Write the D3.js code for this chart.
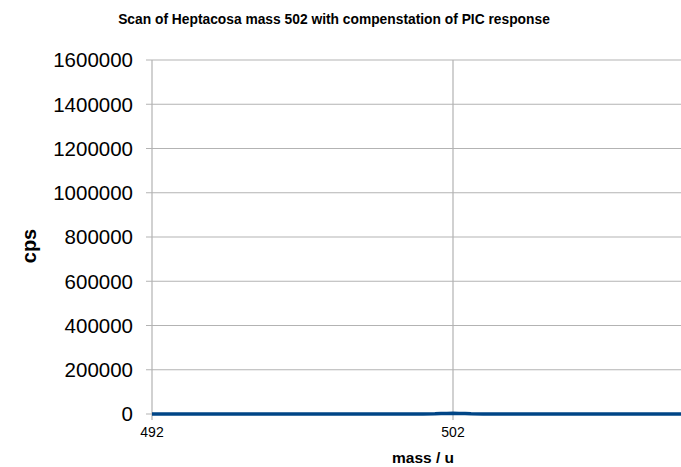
<!DOCTYPE html>
<html><head><meta charset="utf-8">
<script src="https://cdn.jsdelivr.net/npm/d3@7"></script>
<style>body{margin:0;background:#fff}svg{display:block}text{font-family:"Liberation Sans",Arial,sans-serif}</style>
</head><body>
<script>
const masses = [492, 494, 496, 498, 500, 501, 501.4, 501.6, 501.8, 502, 502.2, 502.4, 502.6, 503, 504, 506, 508, 510, 512];
const cps = [200, 300, 250, 300, 400, 500, 900, 1800, 2600, 3000, 2600, 1800, 900, 500, 400, 300, 250, 300, 200];
const yTicks = [0, 200000, 400000, 600000, 800000, 1000000, 1200000, 1400000, 1600000];
const xTicks = [492, 502];
const title = "Scan of Heptacosa mass 502 with compenstation of PIC response";

const W = 681, H = 467;
const svg = d3.select("body").append("svg").attr("width", W).attr("height", H);
const x = d3.scaleLinear().domain([492, 512]).range([152, 754]);
const y = d3.scaleLinear().domain([0, 1600000]).range([414, 60]);

// gridlines
svg.append("g").selectAll("line").data(yTicks).join("line")
  .attr("x1", 146).attr("x2", W).attr("y1", d => y(d)).attr("y2", d => y(d))
  .attr("stroke", "#b3b3b3").attr("stroke-width", 1.2);
svg.append("g").selectAll("line").data(xTicks).join("line")
  .attr("x1", d => x(d)).attr("x2", d => x(d)).attr("y1", 60).attr("y2", 420)
  .attr("stroke", "#b3b3b3").attr("stroke-width", 1.2);

// y labels
svg.append("g").selectAll("text").data(yTicks).join("text")
  .attr("x", 133).attr("y", d => y(d)).attr("dy", "0.36em")
  .attr("text-anchor", "end").attr("font-size", 20.5).attr("fill", "#000")
  .text(d => d);
// x labels
svg.append("g").selectAll("text").data(xTicks).join("text")
  .attr("x", d => x(d)).attr("y", 437)
  .attr("text-anchor", "middle").attr("font-size", 14).attr("fill", "#000")
  .text(d => d);

// line
const line = d3.line().x((d, i) => x(masses[i])).y(d => y(d));
svg.append("path").datum(cps).attr("d", line)
  .attr("fill", "none").attr("stroke", "#004586").attr("stroke-width", 3.5);

svg.append("text").attr("x", 334).attr("y", 24).attr("text-anchor", "middle")
  .attr("font-size", 13.8).attr("font-weight", "bold").text(title);
svg.append("text").attr("x", 423).attr("y", 463).attr("text-anchor", "middle")
  .attr("font-size", 15.5).attr("font-weight", "bold").text("mass / u");
svg.append("text").attr("transform", "translate(36,246) rotate(-90)").attr("text-anchor", "middle")
  .attr("font-size", 20).attr("font-weight", "bold").text("cps");
</script>
</body></html>
